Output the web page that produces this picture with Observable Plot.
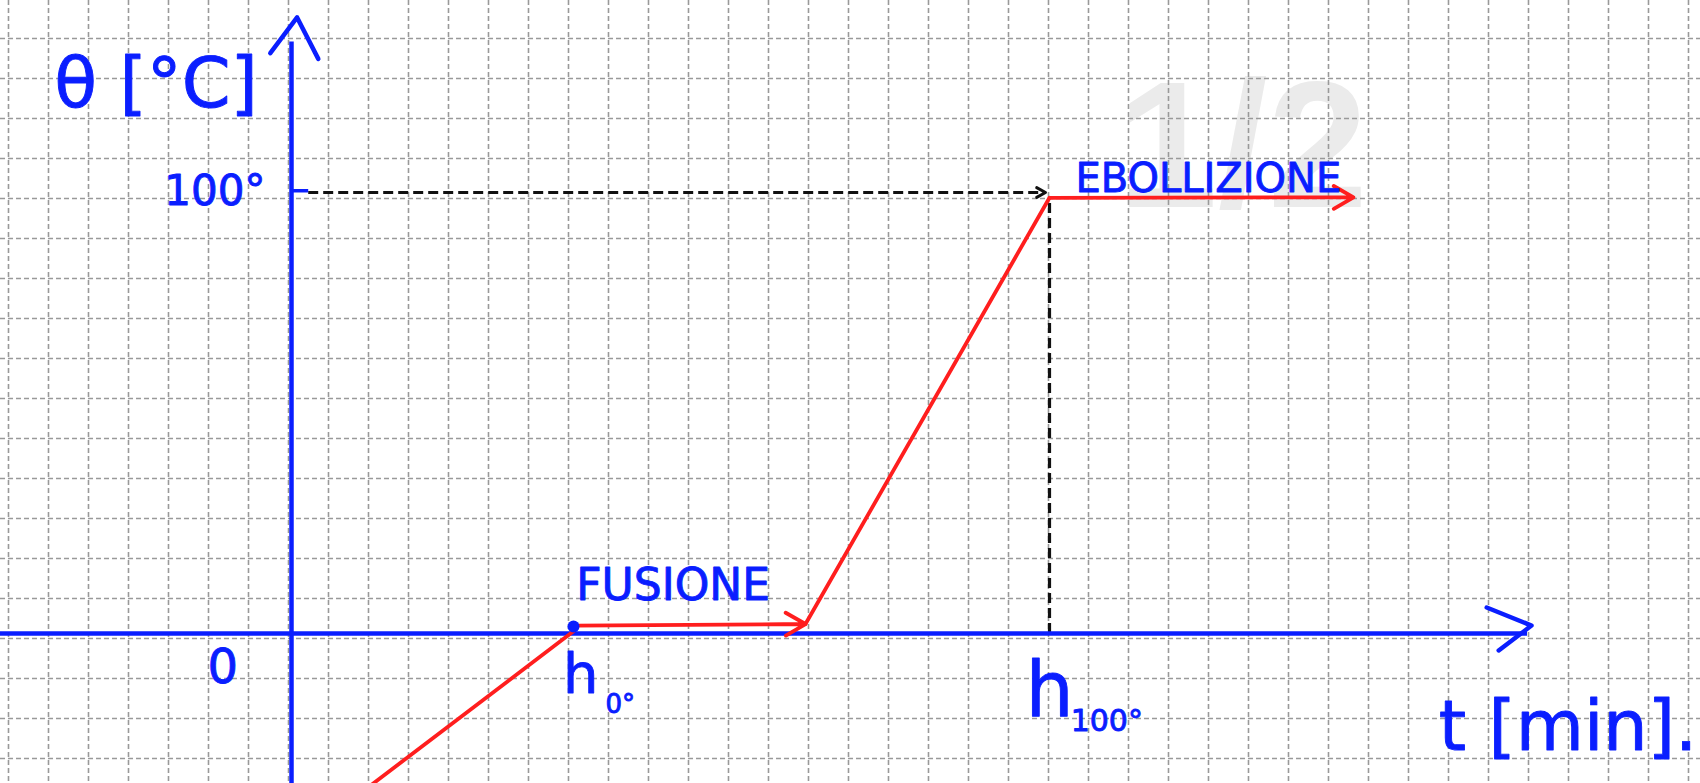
<!DOCTYPE html>
<html>
<head>
<meta charset="utf-8">
<script src="https://cdn.jsdelivr.net/npm/d3@7"></script>
<script src="https://cdn.jsdelivr.net/npm/@observablehq/plot@0.6"></script>
<style>
  html, body { margin: 0; padding: 0; background: #fff; overflow: hidden; }
  svg { display: block; }
</style>
</head>
<body>
<script>
// ---- data (t in minutes from the θ axis, theta in °C) ----
const iceHeating    = [{t: 1.9,   theta: -35},  {t: 7.05,  theta: 0.5}];
const fusion        = [{t: 7.1,   theta: 1.8},  {t: 12.85, theta: 2.15}];
const liquidHeating = [{t: 12.85, theta: 2.15}, {t: 18.95, theta: 98.8}];
const boiling       = [{t: 18.95, theta: 98.8}, {t: 26.55, theta: 98.9}];
const meltPoint     = [{t: 7.05,  theta: 1.6}];
const boilGuideH    = [{t1: 0.43, t2: 18.85, theta: 100}];
const boilGuideV    = [{t: 18.95, theta1: 0, theta2: 98.6}];
const tick100       = [{t1: 0.03, t2: 0.43, theta: 100.4}];
const yAxisLine     = [{t: 0, theta1: -36, theta2: 134.1}];
const yAxisHead     = [{t: -0.53, theta: 131.6}, {t: 0.14, theta: 139.7}, {t: 0.67, theta: 130.3}];
const xAxisLine     = [{t1: -7.5, t2: 30.9, theta: 0}];
const xAxisHead     = [{t: 29.88, theta: 5.9}, {t: 31.0, theta: 1.8}, {t: 30.18, theta: -3.85}];

// labels
const labels = [
  {t: -5.93, theta: 119.3, text: "θ [°C]",   size: 70, anchor: "start"},
  {t: -0.65, theta: 97.1,  text: "100°",     size: 42, anchor: "end"},
  {t: -1.72, theta: -11.2, text: "0",        size: 48, anchor: "middle"},
  {t: 7.23,  theta: -13.4, text: "h",        size: 56, anchor: "middle"},
  {t: 7.85,  theta: -18.1, text: "0°",       size: 26, anchor: "start"},
  {t: 18.95, theta: -18.6, text: "h",        size: 76, anchor: "middle"},
  {t: 19.48, theta: -22.0, text: "100°",     size: 30, anchor: "start"},
  {t: 7.12,  theta: 7.5,   text: "FUSIONE",  size: 44, anchor: "start"},
  {t: 19.6,  theta: 100.2, text: "EBOLLIZIONE", size: 40, anchor: "start"},
  {t: 28.68, theta: -26.5, text: "t [min].", size: 70, anchor: "start"}
];
const watermark = [{t: 23.78, theta: 96.8, text: "1/2"}];

// ---- paper / scale setup ----
const W = 1700, H = 783;
const pxPerMin = 40, pxPerDeg = 4.41, originX = 291, originY = 633;
const tDomain = [(0 - originX) / pxPerMin, (W - originX) / pxPerMin];
const thDomain = [(originY - H) / pxPerDeg, originY / pxPerDeg];
const gridT = d3.range(0, 43).map(k => (8 + 40 * k - originX) / pxPerMin);
const gridTh = d3.range(0, 19).map(k => (originY - 38 - 40 * k) / pxPerDeg);

const BLUE = "#0a1eff", RED = "#ff1e1e";
const end = boilGuideH[0];
const dashHead = [
  {t: end.t2 - 0.22, theta: end.theta + 1.1},
  {t: end.t2, theta: end.theta},
  {t: end.t2 - 0.22, theta: end.theta - 1.1}
];

const labelMarks = ["start", "middle", "end"].map(a =>
  Plot.text(labels.filter(d => d.anchor === a), {x: "t", y: "theta", text: "text", fontSize: d => d.size,
    textAnchor: a, lineAnchor: "bottom", fill: BLUE, stroke: BLUE, strokeWidth: 0.9,
    fontFamily: "DejaVu Sans"}));

const chart = Plot.plot({
  width: W, height: H, margin: 0,
  x: {domain: tDomain, axis: null},
  y: {domain: thDomain, axis: null},
  style: {background: "#fff", overflow: "hidden"},
  marks: [
    Plot.text(watermark, {x: "t", y: "theta", text: "text", fontSize: 180, fontWeight: "bold",
      fontFamily: "Liberation Sans", fill: "#ebebeb", textAnchor: "middle", lineAnchor: "bottom"}),
    Plot.ruleX(gridT, {stroke: "#999", strokeWidth: 1.6, strokeDasharray: "5,3"}),
    Plot.ruleY(gridTh, {stroke: "#999", strokeWidth: 1.6, strokeDasharray: "5,3"}),
    // dashed guides
    Plot.ruleY(boilGuideH, {x1: "t1", x2: "t2", y: "theta", stroke: "#111", strokeWidth: 3.2, strokeDasharray: "10,5"}),
    Plot.line(dashHead, {x: "t", y: "theta", stroke: "#111", strokeWidth: 3}),
    Plot.ruleX(boilGuideV, {x: "t", y1: "theta1", y2: "theta2", stroke: "#111", strokeWidth: 3.2, strokeDasharray: "10,5"}),
    // axes
    Plot.ruleX(yAxisLine, {x: "t", y1: "theta1", y2: "theta2", stroke: BLUE, strokeWidth: 4.5}),
    Plot.line(yAxisHead, {x: "t", y: "theta", stroke: BLUE, strokeWidth: 4.5, strokeLinecap: "round", strokeLinejoin: "round"}),
    Plot.ruleY(xAxisLine, {x1: "t1", x2: "t2", y: "theta", stroke: BLUE, strokeWidth: 4.5}),
    Plot.line(xAxisHead, {x: "t", y: "theta", stroke: BLUE, strokeWidth: 4.5, strokeLinecap: "round", strokeLinejoin: "round"}),
    Plot.ruleY(tick100, {x1: "t1", x2: "t2", y: "theta", stroke: BLUE, strokeWidth: 3.5}),
    // heating curve
    Plot.line(iceHeating, {x: "t", y: "theta", stroke: RED, strokeWidth: 3.8}),
    Plot.arrow([fusion], {x1: d => d[0].t, y1: d => d[0].theta, x2: d => d[1].t, y2: d => d[1].theta,
      stroke: RED, strokeWidth: 3.8, headLength: 9}),
    Plot.line(liquidHeating, {x: "t", y: "theta", stroke: RED, strokeWidth: 3.8}),
    Plot.arrow([boiling], {x1: d => d[0].t, y1: d => d[0].theta, x2: d => d[1].t, y2: d => d[1].theta,
      stroke: RED, strokeWidth: 3.8, headLength: 9}),
    Plot.dot(meltPoint, {x: "t", y: "theta", r: 6, fill: BLUE}),
    ...labelMarks
  ]
});
document.body.appendChild(chart);
</script>
</body>
</html>
